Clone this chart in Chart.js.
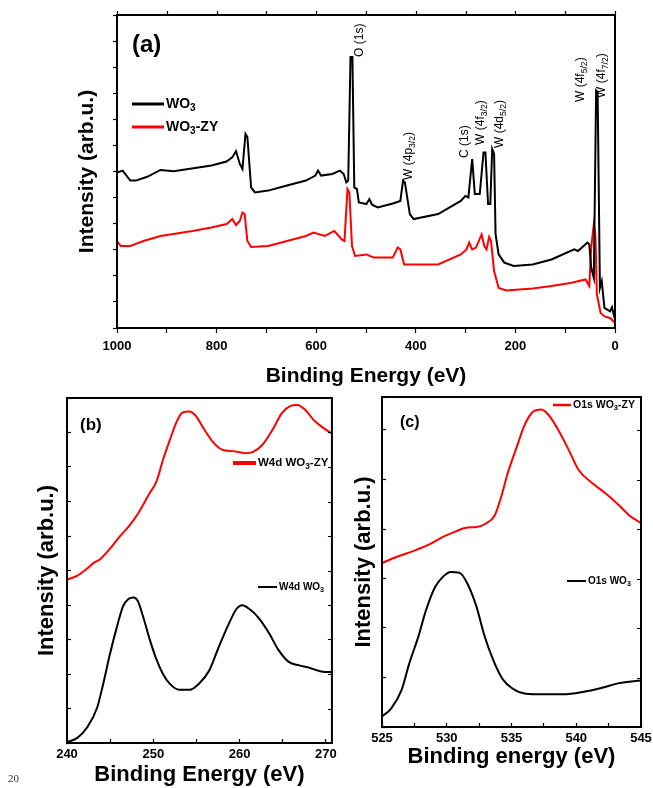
<!DOCTYPE html>
<html>
<head>
<meta charset="utf-8">
<script src="https://cdn.jsdelivr.net/npm/chart.js@4.4.1/dist/chart.umd.min.js"></script>
<style>
  html, body { margin: 0; padding: 0; background: #fff; }
  body { width: 653px; height: 788px; position: relative; overflow: hidden; }
  .box { position: absolute; }
  #pageNo { position: absolute; left: 8px; top: 772px; font: 11px "Liberation Serif", serif; color: #333; }
</style>
</head>
<body>
<div class="box" style="left:0;top:0;width:653px;height:392px"><canvas id="surveyChart"></canvas></div>
<div class="box" style="left:0;top:390px;width:345px;height:398px"><canvas id="w4dChart"></canvas></div>
<div class="box" style="left:335px;top:390px;width:330px;height:398px"><canvas id="o1sChart"></canvas></div>
<div id="pageNo">20</div>
<script>
// (a) survey spectra, binding energy (eV) and intensity (arb.u., 0-100 of the frame)
const surveyE_WO3 = [1000, 988.6, 973.4, 962.1, 939.3, 912.7, 886.2, 810.3, 780.0, 768.6, 761.0, 753.4, 748.1, 742.0, 738.2, 730.7, 723.1, 696.5, 658.6, 620.6, 601.7, 596.4, 590.3, 567.5, 552.4, 544.8, 539.5, 535.7, 531.1, 527.3, 523.5, 518.2, 514.4, 499.2, 493.2, 487.9, 476.5, 446.1, 431.0, 425.6, 421.9, 412.0, 404.4, 355.1, 309.6, 300.5, 294.4, 286.8, 281.5, 271.6, 264.0, 260.2, 254.9, 250.4, 246.6, 242.8, 239.8, 233.7, 222.3, 203.3, 165.4, 127.5, 81.9, 74.4, 55.4, 51.6, 47.8, 42.5, 37.9, 34.9, 30.3, 26.6, 21.2, 9.9, 6.1, 0];
const surveyI_WO3 = [49.7, 50.3, 47.1, 47.1, 48.3, 50.5, 50.1, 51.9, 53.2, 54.5, 56.5, 52.4, 50.8, 62.0, 61.0, 44.9, 43.3, 43.9, 45.5, 47.1, 48.7, 50.3, 48.7, 49.2, 50.3, 49.2, 46.5, 47.1, 86.6, 86.6, 44.9, 44.4, 40.1, 39.6, 41.2, 39.4, 38.5, 39.8, 40.6, 47.1, 46.5, 36.4, 34.8, 36.4, 40.6, 42.2, 41.7, 54.0, 42.8, 42.8, 56.1, 56.1, 39.6, 39.6, 57.2, 55.6, 29.9, 23.5, 20.9, 19.8, 20.3, 21.9, 25.1, 24.6, 27.3, 26.7, 19.3, 16.0, 75.9, 75.4, 12.8, 15.0, 6.4, 5.3, 6.6, 2.7];
const surveyE_ZY = [1000, 992.4, 973.4, 946.9, 912.7, 848.3, 810.3, 780.0, 768.6, 761.0, 753.4, 748.1, 743.6, 738.2, 730.7, 696.5, 658.6, 620.6, 605.5, 582.7, 563.7, 548.6, 543.2, 537.2, 533.4, 528.1, 522.0, 499.2, 484.1, 446.1, 436.3, 431.0, 423.4, 408.2, 355.1, 309.6, 298.2, 292.9, 286.8, 279.2, 267.8, 262.5, 258.0, 252.7, 248.9, 242.8, 233.7, 218.5, 165.4, 127.5, 89.5, 59.2, 51.6, 47.8, 42.5, 39.5, 36.4, 28.8, 21.2, 9.9, 0];
const surveyI_ZY = [27.8, 26.2, 26.2, 27.8, 29.4, 31.0, 32.1, 33.2, 34.8, 32.9, 34.2, 36.9, 36.4, 27.8, 25.9, 26.2, 27.8, 29.4, 30.5, 29.4, 31.0, 28.3, 27.8, 44.4, 43.3, 26.2, 23.0, 23.5, 22.5, 22.5, 25.7, 25.1, 20.3, 20.3, 20.3, 23.5, 25.1, 27.3, 25.1, 25.7, 29.9, 26.2, 25.1, 29.1, 27.8, 18.2, 12.8, 12.0, 12.6, 13.4, 14.4, 15.5, 13.4, 25.7, 33.2, 29.9, 10.7, 4.8, 3.7, 3.2, 1.6];
const surveyTicks = [0, 200, 400, 600, 800, 1000];

// peak labels of (a): text, energy of the label centre, intensity at the text start
const peakText = ['O (1s)', 'W (4p_{3/2})', 'C (1s)', 'W (4f_{3/2})', 'W (4d_{5/2})', 'W (4f_{5/2})', 'W (4f_{7/2})'];
const peakE = [512, 414, 301, 269, 231, 68, 26];
const peakI = [86.6, 47.3, 54.3, 58.5, 57.5, 72.2, 73.5];

// (b) W4d region
const w4dE_ZY = [240.0, 241.2, 242.3, 243.1, 243.8, 245.0, 246.1, 247.3, 248.4, 249.5, 250.4, 251.1, 251.9, 252.7, 253.4, 254.2, 255.0, 255.7, 256.9, 258.0, 259.2, 260.7, 261.5, 262.6, 263.8, 264.9, 265.9, 266.7, 267.6, 268.6, 269.5, 270.7];
const w4dI_ZY = [47.3, 48.5, 50.5, 52.2, 53.2, 56.4, 59.8, 63.2, 67.2, 72.1, 76.0, 81.9, 87.7, 93.1, 95.8, 96.1, 94.6, 91.7, 87.3, 85.0, 84.6, 84.0, 84.3, 86.3, 90.7, 95.6, 97.7, 98.0, 96.6, 93.6, 91.7, 89.7];
const w4dE_WO3 = [240.0, 241.2, 242.3, 243.5, 244.2, 245.0, 245.8, 246.5, 247.1, 247.7, 248.2, 248.8, 249.6, 250.4, 251.1, 251.9, 253.0, 254.2, 255.3, 256.5, 257.6, 258.8, 259.6, 260.3, 261.1, 262.2, 263.4, 264.5, 265.7, 266.9, 268.0, 269.2, 269.9, 270.7];
const w4dI_WO3 = [0.2, 1.5, 4.4, 10.3, 17.2, 26.0, 33.8, 39.7, 41.7, 42.2, 41.2, 36.8, 29.9, 24.0, 20.1, 17.2, 15.4, 15.4, 17.2, 21.1, 27.9, 34.8, 38.7, 39.9, 38.9, 36.3, 31.9, 27.0, 23.5, 22.5, 21.9, 20.9, 20.6, 20.6];
const w4dTicks = [240, 250, 260, 270];

// (c) O1s region
const o1sE_ZY = [525.0, 526.1, 527.4, 528.7, 529.7, 530.7, 531.5, 532.3, 533.0, 533.7, 534.2, 534.7, 535.4, 536.0, 536.6, 537.3, 537.9, 538.7, 539.5, 540.2, 541.3, 542.3, 543.3, 544.1, 545.0];
const o1sI_ZY = [49.7, 51.5, 53.3, 55.4, 57.6, 59.3, 60.4, 60.6, 61.6, 64.1, 69.7, 76.8, 84.8, 91.4, 95.3, 96.2, 94.4, 89.4, 83.3, 77.8, 73.7, 70.7, 67.2, 64.1, 61.8];
const o1sE_WO3 = [525.0, 525.7, 526.5, 527.1, 527.8, 528.4, 529.1, 529.7, 530.3, 531.0, 531.6, 532.3, 532.9, 533.6, 534.3, 535.1, 536.1, 537.4, 539.0, 540.5, 542.0, 543.3, 545.0];
const o1sI_WO3 = [3.2, 5.6, 11.1, 19.2, 27.3, 35.4, 42.4, 45.5, 47.0, 46.7, 43.4, 36.4, 27.8, 20.2, 14.6, 11.6, 10.1, 9.9, 9.9, 10.6, 11.9, 13.3, 14.1];
const o1sTicks = [525, 530, 535, 540, 545];

const FONT = '"Liberation Sans", Arial, sans-serif';

function pts(xs, ys) {
    return xs.map((x, i) => ({ x: x, y: ys[i] }));
}

// split "WO_{3}-ZY" style strings into plain / subscript parts
function parseRich(s) {
    const parts = [];
    const re = /_\{([^}]*)\}|_(.)/g;
    let last = 0, m;
    while ((m = re.exec(s)) !== null) {
        if (m.index > last) parts.push([s.slice(last, m.index), false]);
        parts.push([m[1] !== undefined ? m[1] : m[2], true]);
        last = re.lastIndex;
    }
    if (last < s.length) parts.push([s.slice(last), false]);
    return parts;
}

function drawRich(ctx, s, x, y, size, bold) {
    let cx = x;
    parseRich(s).forEach(([t, sub]) => {
        const fs = sub ? size * 0.72 : size;
        ctx.font = (bold ? 'bold ' : '') + fs + 'px ' + FONT;
        ctx.fillText(t, cx, y + (sub ? size * 0.3 : 0));
        cx += ctx.measureText(t).width;
    });
}

// box around the plot and mirrored ticks
const framePlugin = {
    id: 'frame',
    afterDatasetsDraw(chart, args, o) {
        const { ctx, chartArea: a } = chart;
        const xs = chart.scales.x, ys = chart.scales.y;
        ctx.save();
        ctx.strokeStyle = '#000';
        ctx.lineWidth = 1.2;
        ctx.beginPath();
        if (o.top) {
            xs.ticks.forEach(t => {
                const px = Math.round(xs.getPixelForValue(t.value)) + 0.5;
                ctx.moveTo(px, a.top); ctx.lineTo(px, a.top - o.top);
            });
        }
        if (o.right) {
            ys.ticks.forEach(t => {
                const py = Math.round(ys.getPixelForValue(t.value)) + 0.5;
                ctx.moveTo(a.right, py); ctx.lineTo(a.right + o.right, py);
            });
        }
        ctx.stroke();
        ctx.lineWidth = 2;
        ctx.strokeRect(a.left, a.top, a.right - a.left, a.bottom - a.top);
        ctx.restore();
    }
};

// panel letter, legend entries and peak labels
const decorPlugin = {
    id: 'decor',
    afterDraw(chart, args, o) {
        const ctx = chart.ctx;
        ctx.save();
        ctx.fillStyle = '#000';
        ctx.textBaseline = 'middle';
        ctx.textAlign = 'left';
        if (o.panel) {
            ctx.font = 'bold ' + o.panel.size + 'px ' + FONT;
            ctx.fillText(o.panel.text, o.panel.x, o.panel.y);
        }
        (o.legend || []).forEach(l => {
            ctx.strokeStyle = l.color;
            ctx.lineWidth = l.width;
            ctx.beginPath();
            ctx.moveTo(l.x, l.y); ctx.lineTo(l.x + l.len, l.y);
            ctx.stroke();
            drawRich(ctx, l.text, l.x + l.len + 2, l.y, l.size, true);
        });
        if (o.peaks) {
            const xs = chart.scales.x, ys = chart.scales.y;
            peakText.forEach((t, i) => {
                ctx.save();
                ctx.translate(xs.getPixelForValue(peakE[i]), ys.getPixelForValue(peakI[i]));
                ctx.rotate(-Math.PI / 2);
                drawRich(ctx, t, 0, 0, 12, false);
                ctx.restore();
            });
        }
        ctx.restore();
    }
};

function makeChart(id, cfg) {
    const ctx = document.getElementById(id).getContext('2d');
    return new Chart(ctx, {
        type: 'line',
        data: {
            datasets: cfg.series.map(s => ({
                data: pts(s.x, s.y),
                borderColor: s.color,
                borderWidth: 2,
                pointRadius: 0,
                fill: false,
                tension: cfg.smooth ? 0.4 : 0,
                cubicInterpolationMode: cfg.smooth ? 'monotone' : 'default'
            }))
        },
        options: {
            responsive: true,
            maintainAspectRatio: false,
            animation: false,
            layout: { padding: cfg.padding },
            plugins: {
                legend: { display: false },
                tooltip: { enabled: false },
                frame: cfg.frame,
                decor: cfg.decor
            },
            scales: {
                x: {
                    type: 'linear',
                    reverse: !!cfg.reverse,
                    min: cfg.xMin,
                    max: cfg.xMax,
                    afterFit: s => { s.height = cfg.xHeight; },
                    border: { color: '#000', width: 2 },
                    grid: { drawOnChartArea: false, color: '#000', tickLength: cfg.xTickLen, tickWidth: 1.2 },
                    ticks: {
                        stepSize: cfg.xStep,
                        includeBounds: false,
                        color: '#000',
                        padding: cfg.xLabelPad,
                        maxRotation: 0,
                        autoSkip: false,
                        font: { family: FONT, size: 13, weight: 'bold' },
                        callback: v => cfg.xLabels.includes(v) ? String(v) : ''
                    },
                    title: {
                        display: true,
                        text: cfg.xTitle,
                        color: '#000',
                        font: { family: FONT, size: cfg.titleSize, weight: 'bold' },
                        padding: { top: 0, bottom: 0 }
                    }
                },
                y: {
                    min: 0,
                    max: 100,
                    afterFit: s => { s.width = cfg.yWidth; },
                    border: { color: '#000', width: 2 },
                    grid: { drawOnChartArea: false, color: '#000', tickLength: cfg.yTickLen, tickWidth: 1.2 },
                    ticks: { display: false, stepSize: cfg.yStep },
                    title: {
                        display: true,
                        text: 'Intensity (arb.u.)',
                        color: '#000',
                        font: { family: FONT, size: cfg.titleSize, weight: 'bold' },
                        padding: { top: cfg.yTitlePad, bottom: 0 }
                    }
                }
            }
        },
        plugins: [framePlugin, decorPlugin]
    });
}

// (a) survey
makeChart('surveyChart', {
    series: [
        { x: surveyE_WO3, y: surveyI_WO3, color: '#000000' },
        { x: surveyE_ZY, y: surveyI_ZY, color: '#ff0000' }
    ],
    smooth: false,
    reverse: true,
    xMin: 0, xMax: 1000, xStep: 100, xLabels: surveyTicks,
    xTitle: 'Binding Energy (eV)',
    padding: { left: 0, top: 15, right: 38, bottom: 3 },
    xHeight: 61, xTickLen: 5, xLabelPad: 6,
    yWidth: 117, yTickLen: 4, yStep: 100 / 12, yTitlePad: 75,
    titleSize: 21,
    frame: { top: 4, right: 0 },
    decor: {
        panel: { text: '(a)', x: 132, y: 45, size: 24 },
        legend: [
            { text: 'WO_3', color: '#000000', x: 132, y: 104, len: 32, width: 3, size: 14 },
            { text: 'WO_3-ZY', color: '#ff0000', x: 132, y: 127, len: 32, width: 3, size: 14 }
        ],
        peaks: true
    }
});

// (b) W4d
makeChart('w4dChart', {
    series: [
        { x: w4dE_ZY, y: w4dI_ZY, color: '#ff0000' },
        { x: w4dE_WO3, y: w4dI_WO3, color: '#000000' }
    ],
    smooth: true,
    xMin: 240, xMax: 270.7, xStep: 5, xLabels: w4dTicks,
    xTitle: 'Binding Energy (eV)',
    padding: { left: 0, top: 8, right: 12, bottom: 0 },
    xHeight: 45, xTickLen: -4, xLabelPad: 8,
    yWidth: 67, yTickLen: -4, yStep: 10, yTitlePad: 34,
    titleSize: 22,
    frame: { top: 0, right: -4 },
    decor: {
        panel: { text: '(b)', x: 80, y: 35, size: 17 },
        legend: [
            { text: 'W4d WO_3-ZY', color: '#ff0000', x: 233, y: 73, len: 23, width: 4, size: 11.5 },
            { text: 'W4d WO_3', color: '#000000', x: 258, y: 197, len: 19, width: 2, size: 10 }
        ]
    }
});

// (c) O1s
makeChart('o1sChart', {
    series: [
        { x: o1sE_ZY, y: o1sI_ZY, color: '#ff0000' },
        { x: o1sE_WO3, y: o1sI_WO3, color: '#000000' }
    ],
    smooth: true,
    xMin: 525, xMax: 545, xStep: 2.5, xLabels: o1sTicks,
    xTitle: 'Binding energy (eV)',
    padding: { left: 0, top: 7, right: 24, bottom: 18 },
    xHeight: 43, xTickLen: -4, xLabelPad: 8,
    yWidth: 47, yTickLen: -4, yStep: 15, yTitlePad: 16,
    titleSize: 22,
    frame: { top: 0, right: -4 },
    decor: {
        panel: { text: '(c)', x: 65, y: 33, size: 16 },
        legend: [
            { text: 'O1s WO_3-ZY', color: '#ff0000', x: 218, y: 15, len: 18, width: 2.5, size: 10.5 },
            { text: 'O1s WO_3', color: '#000000', x: 232, y: 191, len: 19, width: 2, size: 10 }
        ]
    }
});
</script>
</body>
</html>
